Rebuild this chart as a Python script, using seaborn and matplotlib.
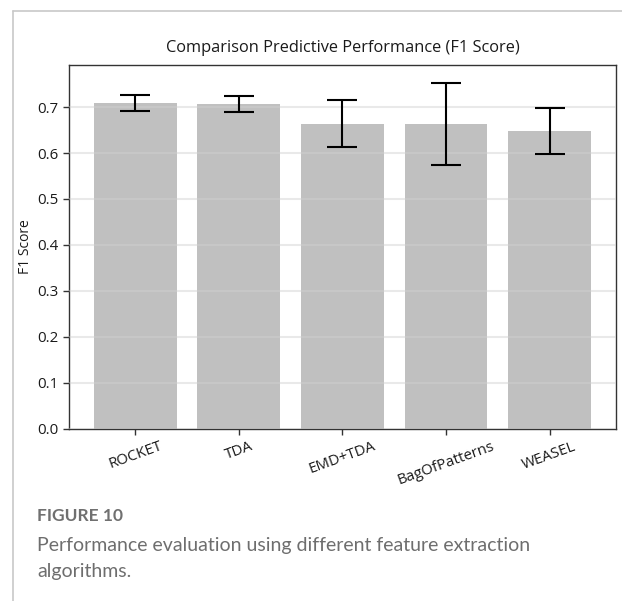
import matplotlib
matplotlib.use("Agg")
import matplotlib.pyplot as plt
from matplotlib.lines import Line2D
import seaborn as sns
import pandas as pd

# F1 scores per feature extraction method, with spread across runs
methods = ["ROCKET", "TDA", "EMD+TDA", "BagOfPatterns", "WEASEL"]
f1_mean = [0.709, 0.707, 0.664, 0.664, 0.648]
f1_err = [0.0165, 0.0165, 0.051, 0.089, 0.050]

df = pd.DataFrame({"method": methods, "f1": f1_mean, "err": f1_err})

sns.set_style("white")
plt.rcParams["font.family"] = ["Open Sans", "DejaVu Sans"]

fig = plt.figure(figsize=(6.22, 6.01), dpi=100)
ax = fig.add_axes([0.111, 0.287, 0.879, 0.605])

sns.barplot(data=df, x="method", y="f1", color="#c0c0c0", saturation=1,
            width=0.8, errorbar=None, ax=ax, zorder=2, linewidth=0)
ax.errorbar(range(len(methods)), df["f1"], yerr=df["err"], fmt="none",
            ecolor="black", elinewidth=1.5, capsize=11, capthick=1.5, zorder=4)

ax.set_xlim(-0.64, 4.64)
ax.set_ylim(0, 0.792)
ax.set_yticks([0.0, 0.1, 0.2, 0.3, 0.4, 0.5, 0.6, 0.7])
ax.yaxis.grid(True, color="#d0d0d0", linewidth=1.5, alpha=0.45, zorder=3)
ax.set_axisbelow(False)
ax.xaxis.grid(False)
for s in ax.spines.values():
    s.set_color("#333333")
    s.set_linewidth(1.0)
ax.tick_params(axis="both", direction="out", length=4, width=1, colors="#333333",
               labelsize=10.8, labelcolor="#1a1a1a", left=True, bottom=True)
plt.setp(ax.get_xticklabels(), rotation=20, ha="center")
ax.set_xlabel("")
ax.set_ylabel("F1 Score", fontsize=10, color="#1a1a1a")
ax.yaxis.set_label_coords(-0.066, 0.5)
ax.set_title("Comparison Predictive Performance (F1 Score)", fontsize=11.8,
             color="#1a1a1a", pad=9)

# Page frame around the figure panel
fig.add_artist(Line2D([12.5 / 622, 12.5 / 622], [0, 1 - 10.5 / 601],
                      transform=fig.transFigure, color="#c8c8c8", linewidth=1.2))
fig.add_artist(Line2D([12.5 / 622, 1], [1 - 10.5 / 601, 1 - 10.5 / 601],
                      transform=fig.transFigure, color="#c8c8c8", linewidth=1.2))

# Caption
fig.text(37 / 622, 1 - 516 / 601, "FIGURE 10", fontsize=12.5, fontweight="bold",
         family="Lato", color="#707070", va="center", ha="left")
fig.text(37 / 622, 1 - 545 / 601,
         "Performance evaluation using different feature extraction",
         fontsize=14, family="Lato", color="#6e6e6e", va="center", ha="left")
fig.text(37 / 622, 1 - 571 / 601, "algorithms.",
         fontsize=14, family="Lato", color="#6e6e6e", va="center", ha="left")

fig.savefig("out.png", dpi=100)
